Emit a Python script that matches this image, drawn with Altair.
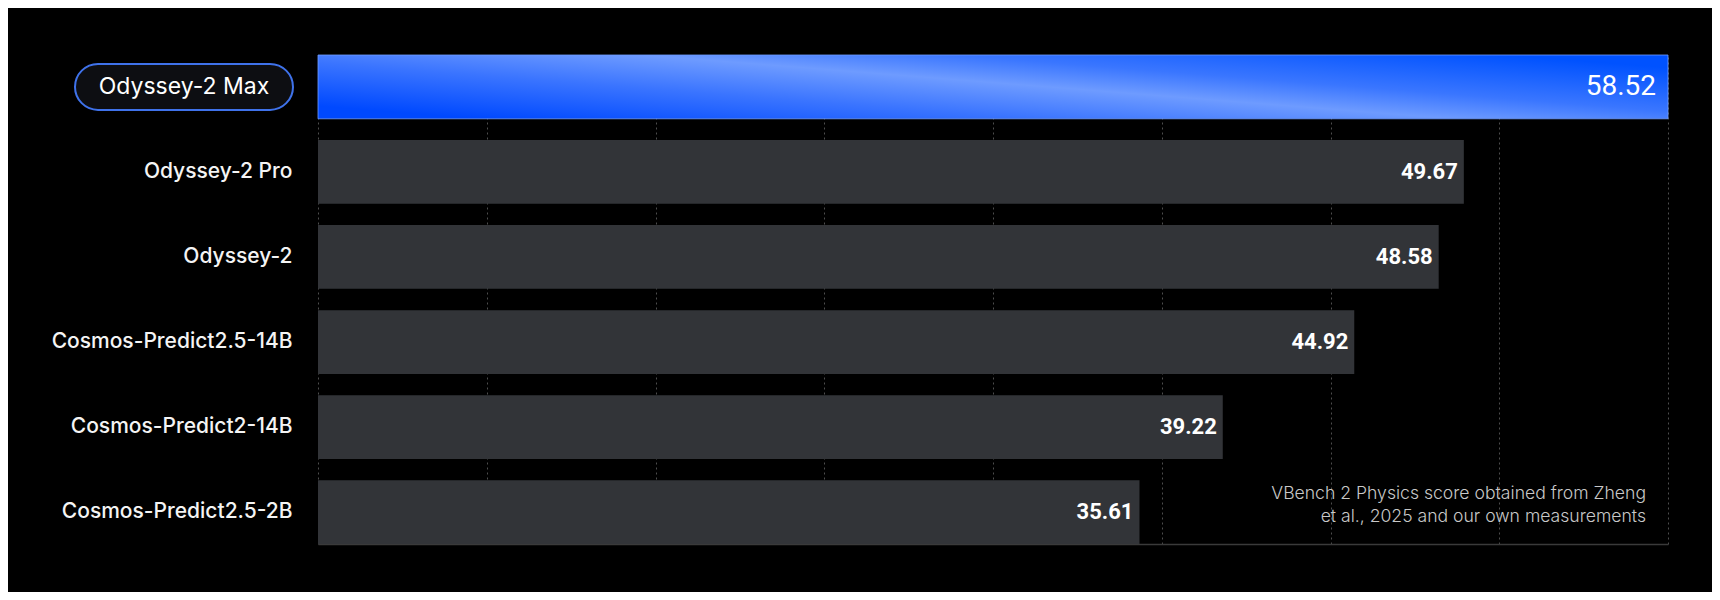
import altair as alt
import pandas as pd

# ---- data ----
models = [
    "Odyssey-2 Max",
    "Odyssey-2 Pro",
    "Odyssey-2",
    "Cosmos-Predict2.5-14B",
    "Cosmos-Predict2-14B",
    "Cosmos-Predict2.5-2B",
]
scores = [58.52, 49.67, 48.58, 44.92, 39.22, 35.61]
highlight = "Odyssey-2 Max"
note_lines = [
    "VBench 2 Physics score obtained from Zheng",
    "et al., 2025 and our own measurements",
]
grid_divisions = 8

df = pd.DataFrame({"model": models, "score": scores})
x_max = max(scores)
grid_values = [x_max * k / grid_divisions for k in range(grid_divisions + 1)]

W, H = 1350, 489

x_enc = alt.X(
    "score:Q",
    scale=alt.Scale(domain=[0, x_max], nice=False, zero=True),
    axis=alt.Axis(
        values=grid_values,
        grid=True,
        gridDash=[2, 3],
        gridColor="#4d4d4d",
        gridWidth=1,
        labels=False,
        ticks=False,
        domain=True,
        domainColor="#3a3a3a",
        domainWidth=1.5,
        title=None,
    ),
)
y_enc = alt.Y(
    "model:N",
    sort=models,
    scale=alt.Scale(paddingInner=0.25, paddingOuter=0),
    axis=alt.Axis(
        title=None,
        ticks=False,
        domain=False,
        labelPadding=26,
        labelLimit=400,
        labelFont="Inter",
        labelFontSize=21,
        labelFontWeight=500,
        labelColor="#f4f4f4",
        labelExpr=f"datum.value == '{highlight}' ? '' : datum.value",
    ),
)

base = alt.Chart(df)
is_hi = alt.datum.model == highlight
not_hi = alt.datum.model != highlight

gray_bars = base.transform_filter(not_hi).mark_bar(color="#323438").encode(
    x=x_enc, y=y_enc
)

grad = {
    "gradient": "linear",
    "x1": 0, "y1": 0.8, "x2": 1, "y2": 0.2,
    "stops": [
        {"offset": 0, "color": "#0049ff"},
        {"offset": 0.3, "color": "#3a74ff"},
        {"offset": 0.53, "color": "#6e9bff"},
        {"offset": 0.7, "color": "#3a76ff"},
        {"offset": 1, "color": "#0052ff"},
    ],
}
hi_bar = base.transform_filter(is_hi).mark_bar(
    fill=grad, stroke="#6f9bff", strokeWidth=1, strokeOpacity=0.8
).encode(x="score:Q", y=y_enc)

pill = base.transform_filter(is_hi).mark_bar(
    size=46, cornerRadius=23, fill="#0d0e12", stroke="#3f72ea", strokeWidth=2
).encode(y=y_enc, x=alt.value(-243), x2=alt.value(-25))

pill_text = base.transform_filter(is_hi).mark_text(
    align="center", baseline="middle", font="Inter", fontSize=23,
    color="#ffffff"
).encode(y=y_enc, x=alt.value(-134), text="model:N")

value_labels = base.transform_filter(not_hi).mark_text(
    align="right", baseline="middle", dx=-6, font="Roboto",
    fontWeight="bold", fontSize=22, color="#ffffff"
).encode(x="score:Q", y=y_enc, text=alt.Text("score:Q", format=".2f"))

hi_label = base.transform_filter(is_hi).mark_text(
    align="right", baseline="middle", dx=-12, font="Roboto",
    fontWeight="normal", fontSize=28, color="#ffffff"
).encode(x="score:Q", y=y_enc, text=alt.Text("score:Q", format=".2f"))

note_df = pd.DataFrame({"note": [note_lines]})
note = alt.Chart(note_df).mark_text(
    align="right", baseline="top", lineHeight=23,
    font="Inter", fontSize=17.6, fontWeight=300, color="#c8c8c8"
).encode(x=alt.value(W - 22), y=alt.value(430), text="note")

chart = (
    alt.layer(gray_bars, hi_bar, value_labels, hi_label, pill, pill_text, note)
    .properties(
        width=W,
        height=H,
        autosize=alt.AutoSizeParams(type="none"),
        padding={"left": 310, "top": 47, "right": 44, "bottom": 48},
    )
    .configure(background="#000000")
    .configure_view(strokeWidth=0)
)

chart.save("out.html", embed_options={"renderer": "svg", "actions": False})
